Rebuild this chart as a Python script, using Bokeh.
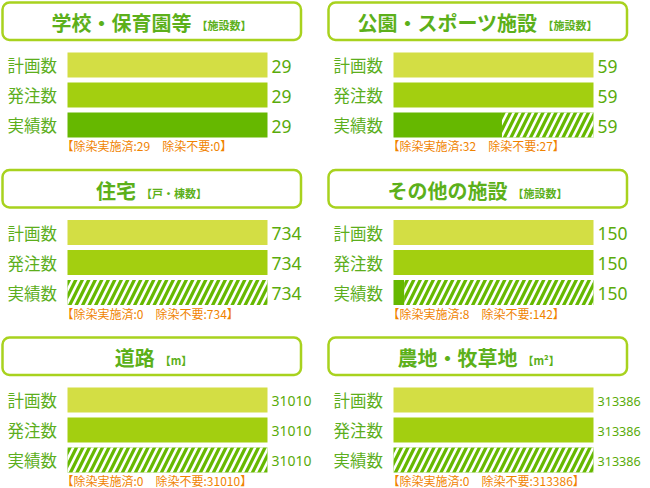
from bokeh.plotting import figure
from bokeh.models import Range1d, BoxAnnotation
from bokeh.core.properties import value
from bokeh.embed import file_html
from bokeh.resources import INLINE

# ---- data ----
titles = ["学校・保育園等", "公園・スポーツ施設", "住宅", "その他の施設", "道路", "農地・牧草地"]
units = ["【施設数】", "【施設数】", "【戸・棟数】", "【施設数】", "【m】", "【m²】"]
categories = ["計画数", "発注数", "実績数"]
planned = [29, 59, 734, 150, 31010, 313386]
ordered = [29, 59, 734, 150, 31010, 313386]
done = [29, 32, 0, 8, 0, 0]
not_needed = [0, 27, 734, 142, 31010, 313386]
note_labels = ["除染実施済", "除染不要"]

# ---- styles ----
C_PLAN = "#d3de44"
C_ORDER = "#a3cf10"
C_DONE = "#66b800"
C_BOX = "#a8d21e"
C_TITLE = "#5cb01a"
C_LABEL = "#5cae1c"
C_VALUE = "#5aab0a"
C_NOTE = "#f08300"
JP = value("Noto Sans CJK JP")

W, H = 650, 488
XR, YR = 650, 488
sx = W / XR

def fs(px):
    return f"{px * sx:.2f}px"

p = figure(width=W, height=H, x_range=Range1d(0, XR), y_range=Range1d(YR, 0),
           output_backend="svg", toolbar_location=None, min_border=0,
           x_axis_location=None, y_axis_location=None)
p.grid.visible = False
p.outline_line_color = None
p.background_fill_color = "white"
p.border_fill_color = "white"

BAR_L, BAR_W = 67, 200
COL_DX, ROW_DY = 326, 167.5

def text_width(s, size):
    w = 0
    for ch in s:
        w += size if ord(ch) > 0x2000 else size * 0.6
    return w

for i in range(len(titles)):
    col, row = i % 2, i // 2
    ox, oy = col * COL_DX, row * ROW_DY

    # title box
    p.add_layout(BoxAnnotation(left=ox + 2, right=ox + 300.5, top=oy + 2, bottom=oy + 39.5,
                               border_radius=7, fill_color="white", fill_alpha=1,
                               line_color=C_BOX, line_alpha=1, line_width=2.5,
                               level="underlay"))
    tw = text_width(titles[i], 20)
    uw = text_width(units[i], 11)
    gap = 5
    cx = ox + 151
    tx = cx - (tw + gap + uw) / 2
    p.text(x=[tx], y=[oy + 22], text=[titles[i]], text_font=JP, text_font_style="bold",
           text_font_size=fs(20), text_color=C_TITLE, text_align="left", text_baseline="middle")
    p.text(x=[tx + tw + gap], y=[oy + 24.5], text=[units[i]], text_font=JP,
           text_font_style="bold", text_font_size=fs(11), text_color=C_TITLE,
           text_align="left", text_baseline="middle")

    # value scale for this panel
    M = planned[i]
    name = f"v{i}"
    p.extra_x_ranges[name] = Range1d(start=-(ox + BAR_L) * M / BAR_W,
                                     end=(XR - ox - BAR_L) * M / BAR_W)

    ys = [oy + 64.5 + k * 30 for k in range(len(categories))]
    p.hbar(y=[ys[0]], left=[0], right=[planned[i]], height=25, x_range_name=name,
           fill_color=C_PLAN, line_color=None)
    p.hbar(y=[ys[1]], left=[0], right=[ordered[i]], height=25, x_range_name=name,
           fill_color=C_ORDER, line_color=None)
    p.hbar(y=[ys[2]], left=[0], right=[done[i]], height=25, x_range_name=name,
           fill_color=C_DONE, line_color=None)
    if not_needed[i] > 0:
        p.hbar(y=[ys[2]], left=[done[i]], right=[done[i] + not_needed[i]], height=25,
               x_range_name=name, fill_color=C_DONE, line_color=None,
               hatch_pattern="/", hatch_color="white", hatch_scale=13, hatch_weight=2.6)

    # category labels
    p.text(x=[ox + 7] * 3, y=ys, text=categories, text_font=JP, text_font_size=fs(16.5),
           text_color=C_LABEL, text_align="left", text_baseline="middle")

    # values
    vals = [planned[i], ordered[i], done[i] + not_needed[i]]
    vtxt = [str(v) for v in vals]
    n = len(vtxt[0])
    size = 17.5 if n <= 3 else (14.0 if n == 5 else 12.6)
    p.text(x=[ox + 271] * 3, y=[y + 1 for y in ys], text=vtxt, text_font=value("Noto Sans"),
           text_font_size=fs(size), text_color=C_VALUE, text_align="left",
           text_baseline="middle")

    # note
    note = f"【{note_labels[0]}:{done[i]}　{note_labels[1]}:{not_needed[i]}】"
    p.text(x=[ox + 61], y=[oy + 145], text=[note], text_font=JP, text_font_size=fs(12),
           text_color=C_NOTE, text_align="left", text_baseline="middle")

open("out.html", "w").write(file_html(p, INLINE))
